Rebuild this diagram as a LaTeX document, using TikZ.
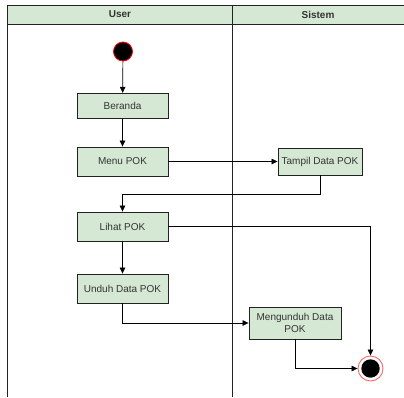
\documentclass[tikz,border=0pt]{standalone}
\usepackage{fontspec}
\setmainfont{Liberation Sans}
\usetikzlibrary{arrows.meta}
\definecolor{actfill}{HTML}{D5E8D4}
\definecolor{edge}{HTML}{222222}
\definecolor{txt}{HTML}{333333}
\begin{document}
\begin{tikzpicture}[x=1pt,y=-1pt,
  act/.style={draw=edge, line width=0.9pt, fill=actfill, rectangle, inner sep=0pt,
    text=txt, font=\fontsize{10}{12}\selectfont, align=center},
  flow/.style={draw=black, line width=0.7pt, -{Triangle[length=6pt,width=5.5pt]}},
  lane/.style={draw=edge, line width=1pt},
  lanehead/.style={font=\bfseries\fontsize{10}{12}\selectfont, text=txt}
]
\useasboundingbox (0,0) rectangle (404,397);

% swimlane header and lane lines
\fill[actfill] (7,5) rectangle (404,24);
\draw[lane] (404,5) -- (7,5) -- (7,397);
\draw[lane] (7,24) -- (404,24);
\draw[lane] (232,5) -- (232,397);
\node[lanehead] (huser) at (120,14.5) {User};
\node[lanehead] (hsys) at (318,14.5) {Sistem};

% initial node
\node[circle, draw=red, line width=0.8pt, fill=black, minimum size=19pt, inner sep=0pt] (start) at (123,51.5) {};

% activities
\node[act, minimum width=91pt, minimum height=25pt] (beranda) at (122.5,105.8) {Beranda};
\node[act, minimum width=91pt, minimum height=29pt] (menu) at (122.5,161.5) {Menu POK};
\node[act, minimum width=84pt, minimum height=27pt] (tampil) at (320,161.5) {Tampil Data POK};
\node[act, minimum width=91pt, minimum height=29pt] (lihat) at (122.5,226.5) {Lihat POK};
\node[act, minimum width=91pt, minimum height=29pt] (unduh) at (122.5,288.5) {Unduh Data POK};
\node[act, minimum width=92pt, minimum height=32pt] (mengunduh) at (295,323) {Mengunduh Data\\POK};

% final node
\node[circle, draw=red!60, line width=0.9pt, fill=white, minimum size=25pt, inner sep=0pt] (final) at (370.5,368.5) {};
\fill[black] (final.center) circle (9.2pt);

% control flow
\draw[flow] (start) -- (beranda);
\draw[flow] (beranda) -- (menu);
\draw[flow] (menu.east) -- (tampil.west);
\draw[flow] (tampil.south) -- ++(0,18.5) -| (lihat.north);
\draw[flow] (lihat.east) -| (final.north);
\draw[flow] (lihat) -- (unduh);
\draw[flow] (unduh.south) |- (mengunduh.west);
\draw[flow] (mengunduh.south) |- (final.west);
\end{tikzpicture}
\end{document}
